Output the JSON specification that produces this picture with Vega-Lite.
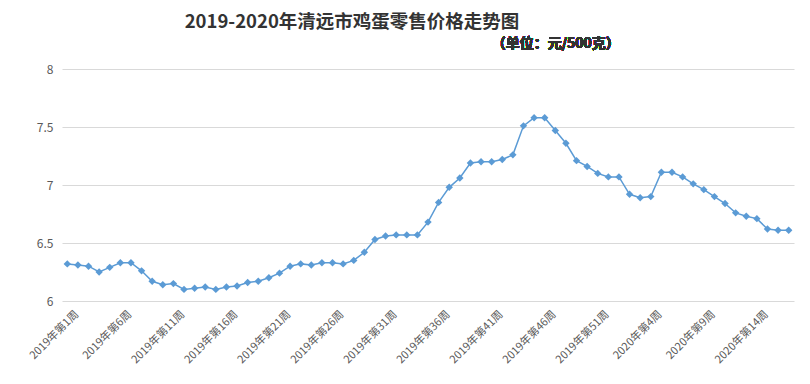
{
  "$schema": "https://vega.github.io/schema/vega-lite/v6.json",
  "width": 732,
  "height": 232,
  "autosize": {"type": "none"},
  "padding": {"left": 62, "top": 69, "right": 16, "bottom": 83},
  "background": "white",
  "title": {
    "text": "2019-2020年清远市鸡蛋零售价格走势图",
    "anchor": "middle",
    "frame": "group",
    "dx": -76,
    "offset": 6,
    "font": "Noto Sans CJK SC",
    "fontSize": 18.5,
    "fontWeight": "bold",
    "color": "#333333"
  },
  "config": {
    "view": {"stroke": null},
    "axis": {"labelFont": "Noto Sans CJK SC", "labelColor": "#595959"}
  },
  "data": {
    "values": [
      {"week": "2019年第1周", "price": 6.32},
      {"week": "2019年第2周", "price": 6.31},
      {"week": "2019年第3周", "price": 6.30},
      {"week": "2019年第4周", "price": 6.25},
      {"week": "2019年第5周", "price": 6.29},
      {"week": "2019年第6周", "price": 6.33},
      {"week": "2019年第7周", "price": 6.33},
      {"week": "2019年第8周", "price": 6.26},
      {"week": "2019年第9周", "price": 6.17},
      {"week": "2019年第10周", "price": 6.14},
      {"week": "2019年第11周", "price": 6.15},
      {"week": "2019年第12周", "price": 6.10},
      {"week": "2019年第13周", "price": 6.11},
      {"week": "2019年第14周", "price": 6.12},
      {"week": "2019年第15周", "price": 6.10},
      {"week": "2019年第16周", "price": 6.12},
      {"week": "2019年第17周", "price": 6.13},
      {"week": "2019年第18周", "price": 6.16},
      {"week": "2019年第19周", "price": 6.17},
      {"week": "2019年第20周", "price": 6.20},
      {"week": "2019年第21周", "price": 6.24},
      {"week": "2019年第22周", "price": 6.30},
      {"week": "2019年第23周", "price": 6.32},
      {"week": "2019年第24周", "price": 6.31},
      {"week": "2019年第25周", "price": 6.33},
      {"week": "2019年第26周", "price": 6.33},
      {"week": "2019年第27周", "price": 6.32},
      {"week": "2019年第28周", "price": 6.35},
      {"week": "2019年第29周", "price": 6.42},
      {"week": "2019年第30周", "price": 6.53},
      {"week": "2019年第31周", "price": 6.56},
      {"week": "2019年第32周", "price": 6.57},
      {"week": "2019年第33周", "price": 6.57},
      {"week": "2019年第34周", "price": 6.57},
      {"week": "2019年第35周", "price": 6.68},
      {"week": "2019年第36周", "price": 6.85},
      {"week": "2019年第37周", "price": 6.98},
      {"week": "2019年第38周", "price": 7.06},
      {"week": "2019年第39周", "price": 7.19},
      {"week": "2019年第40周", "price": 7.20},
      {"week": "2019年第41周", "price": 7.20},
      {"week": "2019年第42周", "price": 7.22},
      {"week": "2019年第43周", "price": 7.26},
      {"week": "2019年第44周", "price": 7.51},
      {"week": "2019年第45周", "price": 7.58},
      {"week": "2019年第46周", "price": 7.58},
      {"week": "2019年第47周", "price": 7.47},
      {"week": "2019年第48周", "price": 7.36},
      {"week": "2019年第49周", "price": 7.21},
      {"week": "2019年第50周", "price": 7.16},
      {"week": "2019年第51周", "price": 7.10},
      {"week": "2019年第52周", "price": 7.07},
      {"week": "2020年第1周", "price": 7.07},
      {"week": "2020年第2周", "price": 6.92},
      {"week": "2020年第3周", "price": 6.89},
      {"week": "2020年第4周", "price": 6.90},
      {"week": "2020年第5周", "price": 7.11},
      {"week": "2020年第6周", "price": 7.11},
      {"week": "2020年第7周", "price": 7.07},
      {"week": "2020年第8周", "price": 7.01},
      {"week": "2020年第9周", "price": 6.96},
      {"week": "2020年第10周", "price": 6.90},
      {"week": "2020年第11周", "price": 6.84},
      {"week": "2020年第12周", "price": 6.76},
      {"week": "2020年第13周", "price": 6.73},
      {"week": "2020年第14周", "price": 6.71},
      {"week": "2020年第15周", "price": 6.62},
      {"week": "2020年第16周", "price": 6.61},
      {"week": "2020年第17周", "price": 6.61}
    ]
  },
  "encoding": {
    "x": {
      "field": "week",
      "type": "ordinal",
      "sort": null,
      "scale": {"type": "point", "padding": 0.5},
      "axis": {
        "title": null,
        "values": ["2019年第1周", "2019年第6周", "2019年第11周", "2019年第16周", "2019年第21周", "2019年第26周", "2019年第31周", "2019年第36周", "2019年第41周", "2019年第46周", "2019年第51周", "2020年第4周", "2020年第9周", "2020年第14周"],
        "labelAngle": -45,
        "labelFontSize": 11,
        "labelPadding": 7,
        "labelOffset": 5,
        "domain": false,
        "ticks": false,
        "grid": false
      }
    },
    "y": {
      "field": "price",
      "type": "quantitative",
      "scale": {"domain": [6, 8], "zero": false, "nice": false},
      "axis": {
        "title": null,
        "values": [6, 6.5, 7, 7.5, 8],
        "format": "~g",
        "labelFontSize": 12,
        "labelPadding": 9,
        "domain": false,
        "ticks": false,
        "grid": true,
        "gridColor": "#D9D9D9",
        "gridWidth": 1
      }
    }
  },
  "layer": [
    {
      "mark": {
        "type": "line",
        "color": "#5B9BD5",
        "strokeWidth": 1.5,
        "point": {"shape": "diamond", "size": 55, "filled": true, "color": "#5B9BD5", "opacity": 1}
      }
    },
    {
      "mark": {
        "type": "text",
        "text": "（单位：元/500克）",
        "align": "left",
        "baseline": "middle",
        "font": "Noto Sans CJK SC",
        "fontSize": 14,
        "fontWeight": "bold",
        "color": "#333333",
        "clip": false
      },
      "encoding": {
        "x": {"datum": "2019年第41周"},
        "y": {"datum": 8.215}
      }
    }
  ]
}
